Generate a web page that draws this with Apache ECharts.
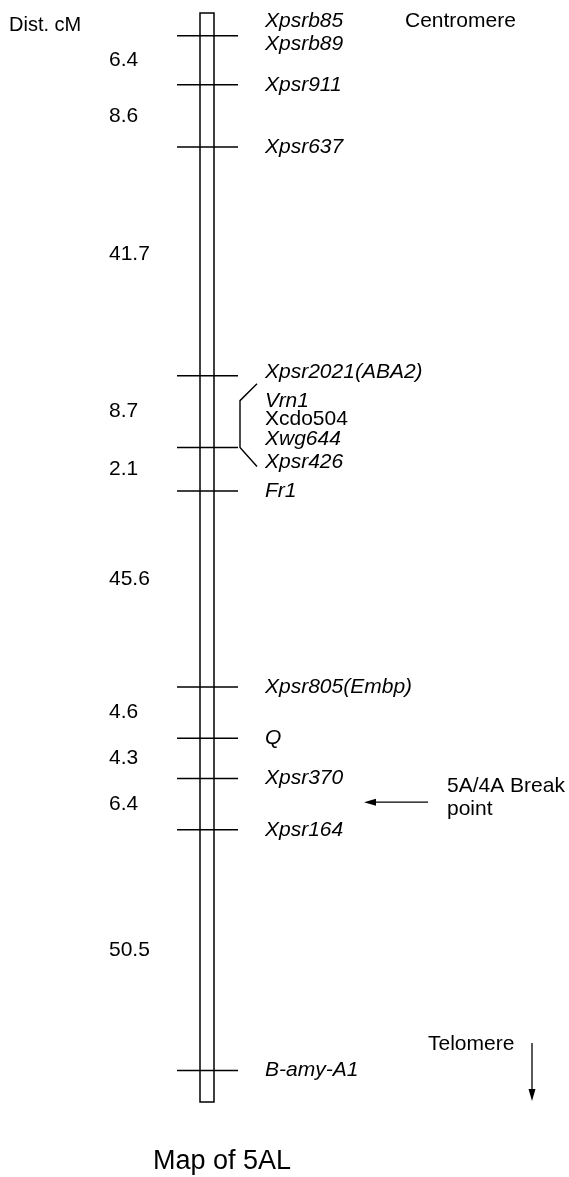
<!DOCTYPE html>
<html><head><meta charset="utf-8">
<script src="https://cdn.jsdelivr.net/npm/echarts@6/dist/echarts.min.js"></script>
<style>html,body{margin:0;padding:0;background:#fff}#c{width:569px;height:1177px}</style>
</head><body><div id="c"></div>
<script>
// ---- data ----
const markerNames = ['Xpsrb85','Xpsrb89','Xpsr911','Xpsr637','Xpsr2021(ABA2)','Vrn1','Xcdo504','Xwg644','Xpsr426','Fr1','Xpsr805(Embp)','Q','Xpsr370','Xpsr164','B-amy-A1'];
// schematic position along the drawn map (0 = centromere end, 100 = telomere end)
const markerPos = [0.7, 2.1, 6.6, 12.3, 33.3, 35.6, 37.3, 39.1, 39.9, 43.9, 61.9, 66.6, 70.3, 75.0, 97.1];
const markerHasTick = [false, true, true, true, true, false, false, false, true, true, true, true, true, true, true];
const uprightMarkers = ['Xcdo504'];
// distances (cM) between consecutive ticked markers
const intervalDist = ['6.4', '8.6', '41.7', '8.7', '2.1', '45.6', '4.6', '4.3', '6.4', '50.5'];
const bracketFrom = 'Xpsr2021(ABA2)', bracketTo = 'Xpsr426';
const breakBetween = ['Xpsr370', 'Xpsr164'];
const texts = { axisTitle: 'Dist. cM', top: 'Centromere', bottom: 'Telomere', breakLine1: '5A/4A Break', breakLine2: 'point', title: 'Map of 5AL' };

// ---- style / layout ----
const FONT = '"Liberation Sans", Arial, Helvetica, sans-serif';
const S = { barX: 200, barW: 14, tickX0: 177, tickX1: 238, labelX: 265, distX: 109, fs: 21, lw: 1.5 };
const labelDy = { 'Xpsrb85': 1, 'Xpsrb89': 8, 'Xpsr2021(ABA2)': -3, 'Xpsr426': 15 };
const distDy = { '41.7': -7, '45.6': -10 };

const tickIdx = markerNames.map((n, i) => i).filter(i => markerHasTick[i]);
const tickPos = tickIdx.map(i => markerPos[i]);
const distData = intervalDist.map((d, k) => [k, (tickPos[k] + tickPos[k + 1]) / 2]);
const posOf = n => markerPos[markerNames.indexOf(n)];

const chart = echarts.init(document.getElementById('c'), null, { renderer: 'canvas' });
const yOf = (api, p) => api.coord([0, p])[1];
const txt = (x, y, t, o) => ({ type: 'text', x: x, y: y, style: Object.assign({ text: t, fill: '#000', fontSize: S.fs, fontFamily: FONT, align: 'left', verticalAlign: 'middle' }, o || {}) });

const option = {
  animation: false,
  backgroundColor: '#fff',
  grid: { left: 0, right: 0, top: 13, bottom: 75 },
  xAxis: { type: 'value', min: 0, max: 569, show: false },
  yAxis: { type: 'value', min: 0, max: 100, inverse: true, show: false },
  title: { text: texts.title, left: 153, top: 1148, padding: 0, textStyle: { fontSize: 27, fontWeight: 'normal', fontFamily: FONT, color: '#000' } },
  graphic: [
    txt(9, 25, texts.axisTitle, { fontSize: 20 }),
    txt(405, 21, texts.top),
    txt(428, 1044, texts.bottom),
    { type: 'line', shape: { x1: 532, y1: 1043, x2: 532, y2: 1092 }, style: { stroke: '#000', lineWidth: 1.3 } },
    { type: 'polygon', shape: { points: [[532, 1101], [528.5, 1089], [535.5, 1089]] }, style: { fill: '#000' } }
  ],
  series: [
    { type: 'custom', name: 'chromosome', data: [[0, 0, 100]], renderItem: (p, api) => {
        const y0 = yOf(api, api.value(1)), y1 = yOf(api, api.value(2));
        return { type: 'rect', shape: { x: S.barX, y: y0, width: S.barW, height: y1 - y0 }, style: { fill: '#fff', stroke: '#000', lineWidth: S.lw } };
      } },
    { type: 'custom', name: 'ticks', data: tickPos.map((v, k) => [k, v]), renderItem: (p, api) => {
        const y = yOf(api, api.value(1));
        return { type: 'line', shape: { x1: S.tickX0, y1: y, x2: S.tickX1, y2: y }, style: { stroke: '#000', lineWidth: S.lw } };
      } },
    { type: 'custom', name: 'markers', data: markerPos.map((v, i) => [i, v]), renderItem: (p, api) => {
        const i = api.value(0), n = markerNames[i];
        const y = yOf(api, api.value(1)) + (labelDy[n] || 0);
        return txt(S.labelX, y, n, { fontStyle: uprightMarkers.includes(n) ? 'normal' : 'italic' });
      } },
    { type: 'custom', name: 'distances', data: distData, renderItem: (p, api) => {
        const t = intervalDist[api.value(0)];
        const y = yOf(api, api.value(1)) + (distDy[t] || 0);
        return txt(S.distX, y, t);
      } },
    { type: 'custom', name: 'bracket', data: [[0, posOf(bracketFrom), posOf(bracketTo)]], renderItem: (p, api) => {
        const a = yOf(api, api.value(1)), b = yOf(api, api.value(2));
        return { type: 'polyline', shape: { points: [[257, a + 8], [240, a + 25], [240, b], [257, b + 19]] }, style: { stroke: '#000', lineWidth: 1.4, fill: null } };
      } },
    { type: 'custom', name: 'breakpoint', data: [[0, (posOf(breakBetween[0]) + posOf(breakBetween[1])) / 2]], renderItem: (p, api) => {
        const y = yOf(api, api.value(1)) - 2;
        return { type: 'group', children: [
          { type: 'line', shape: { x1: 428, y1: y, x2: 372, y2: y }, style: { stroke: '#000', lineWidth: 1.4 } },
          { type: 'polygon', shape: { points: [[364, y], [376, y - 3.5], [376, y + 3.5]] }, style: { fill: '#000' } },
          txt(447, y - 16, texts.breakLine1),
          txt(447, y + 7, texts.breakLine2)
        ] };
      } }
  ]
};
chart.setOption(option);
</script></body></html>
